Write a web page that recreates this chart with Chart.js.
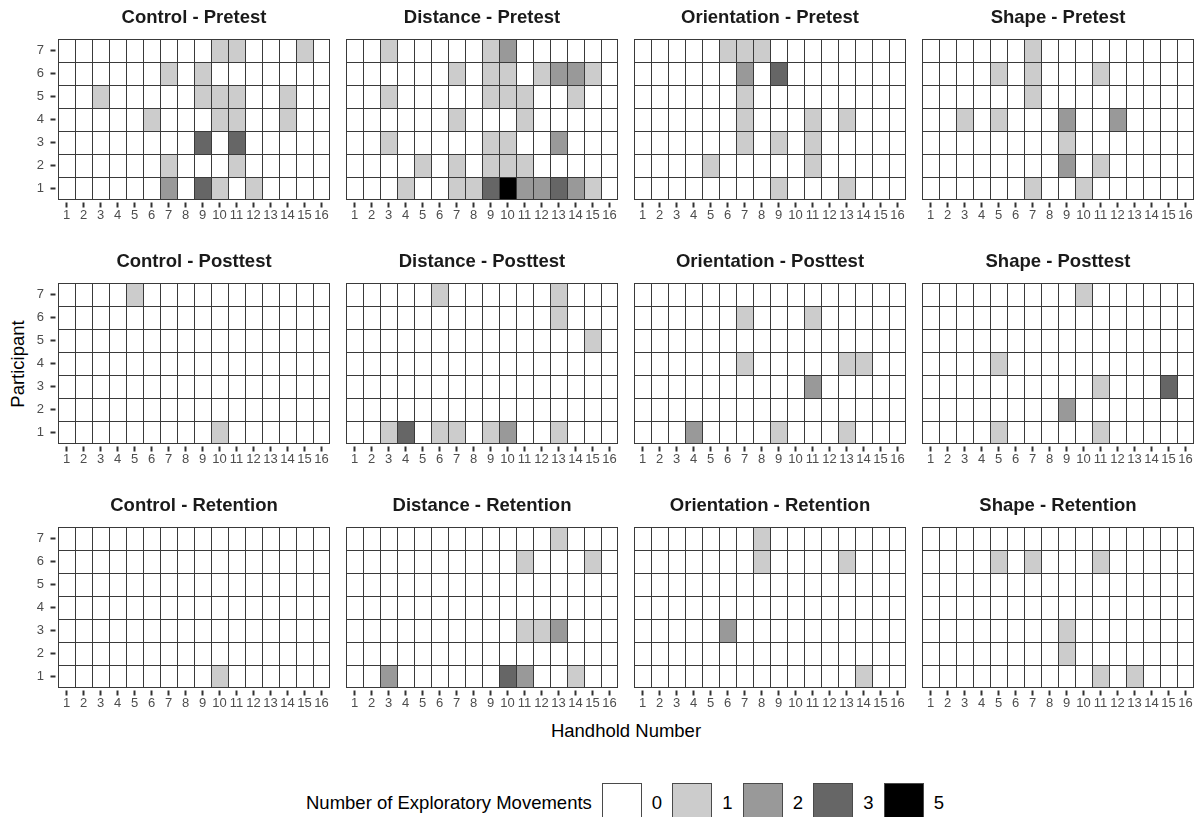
<!DOCTYPE html>
<html><head><meta charset="utf-8">
<script src="https://cdn.jsdelivr.net/npm/chart.js@4"></script>
<style>
html,body{margin:0;padding:0;background:#fff;width:1201px;height:817px;overflow:hidden;position:relative;font-family:'Liberation Sans',Arial,sans-serif;}
canvas{position:absolute;}
.txt{position:absolute;white-space:nowrap;color:#000;font-size:18.5px;line-height:1;}
#legend{position:absolute;left:306px;top:783px;height:40px;display:flex;align-items:center;}
#legend .key{width:40px;height:40px;box-sizing:border-box;border:1px solid #4a4a4a;}
#legend .klab{font-size:18.5px;margin:0 10px 0 10px;width:10.5px;text-align:left;}
</style></head><body>
<div class="txt" id="ytitle" style="left:18px;top:364px;transform:translate(-50%,-50%) rotate(-90deg);">Participant</div>
<div class="txt" id="xtitle" style="left:626px;top:731px;transform:translate(-50%,-50%);">Handhold Number</div>
<div id="legend"><span class="txt" style="position:static;margin-right:10px;">Number of Exploratory Movements</span></div>
<script>
// ---------------- DATA ----------------
const handholds = ['1','2','3','4','5','6','7','8','9','10','11','12','13','14','15','16'];
const participants = [1,2,3,4,5,6,7];
const groups = ['Control','Distance','Orientation','Shape'];
const phases = ['Pretest','Posttest','Retention'];
const legendLevels = [0,1,2,3,5];

// each matrix: rows = participant 7 (top) ... participant 1 (bottom); columns = handhold 1..16
const controlPretest = [
  [0,0,0,0,0,0,0,0,0,1,1,0,0,0,1,0],
  [0,0,0,0,0,0,1,0,1,0,0,0,0,0,0,0],
  [0,0,1,0,0,0,0,0,1,1,1,0,0,1,0,0],
  [0,0,0,0,0,1,0,0,0,1,1,0,0,1,0,0],
  [0,0,0,0,0,0,0,0,3,0,3,0,0,0,0,0],
  [0,0,0,0,0,0,1,0,0,0,1,0,0,0,0,0],
  [0,0,0,0,0,0,2,0,3,1,0,1,0,0,0,0]
];
const distancePretest = [
  [0,0,1,0,0,0,0,0,1,2,0,0,0,0,0,0],
  [0,0,0,0,0,0,1,0,1,1,0,1,2,2,1,0],
  [0,0,1,0,0,0,0,0,1,1,1,0,0,1,0,0],
  [0,0,0,0,0,0,1,0,0,0,1,0,0,0,0,0],
  [0,0,1,0,0,0,0,0,1,1,0,0,2,0,0,0],
  [0,0,0,0,1,0,1,0,1,1,1,0,0,0,0,0],
  [0,0,0,1,0,0,1,1,3,5,2,2,3,2,1,0]
];
const orientationPretest = [
  [0,0,0,0,0,1,1,1,0,0,0,0,0,0,0,0],
  [0,0,0,0,0,0,2,0,3,0,0,0,0,0,0,0],
  [0,0,0,0,0,0,1,0,0,0,0,0,0,0,0,0],
  [0,0,0,0,0,0,1,0,0,0,1,0,1,0,0,0],
  [0,0,0,0,0,0,1,0,1,0,1,0,0,0,0,0],
  [0,0,0,0,1,0,0,0,0,0,1,0,0,0,0,0],
  [0,0,0,0,0,0,0,0,1,0,0,0,1,0,0,0]
];
const shapePretest = [
  [0,0,0,0,0,0,1,0,0,0,0,0,0,0,0,0],
  [0,0,0,0,1,0,1,0,0,0,1,0,0,0,0,0],
  [0,0,0,0,0,0,1,0,0,0,0,0,0,0,0,0],
  [0,0,1,0,1,0,0,0,2,0,0,2,0,0,0,0],
  [0,0,0,0,0,0,0,0,1,0,0,0,0,0,0,0],
  [0,0,0,0,0,0,0,0,2,0,1,0,0,0,0,0],
  [0,0,0,0,0,0,1,0,0,1,0,0,0,0,0,0]
];
const controlPosttest = [
  [0,0,0,0,1,0,0,0,0,0,0,0,0,0,0,0],
  [0,0,0,0,0,0,0,0,0,0,0,0,0,0,0,0],
  [0,0,0,0,0,0,0,0,0,0,0,0,0,0,0,0],
  [0,0,0,0,0,0,0,0,0,0,0,0,0,0,0,0],
  [0,0,0,0,0,0,0,0,0,0,0,0,0,0,0,0],
  [0,0,0,0,0,0,0,0,0,0,0,0,0,0,0,0],
  [0,0,0,0,0,0,0,0,0,1,0,0,0,0,0,0]
];
const distancePosttest = [
  [0,0,0,0,0,1,0,0,0,0,0,0,1,0,0,0],
  [0,0,0,0,0,0,0,0,0,0,0,0,1,0,0,0],
  [0,0,0,0,0,0,0,0,0,0,0,0,0,0,1,0],
  [0,0,0,0,0,0,0,0,0,0,0,0,0,0,0,0],
  [0,0,0,0,0,0,0,0,0,0,0,0,0,0,0,0],
  [0,0,0,0,0,0,0,0,0,0,0,0,0,0,0,0],
  [0,0,1,3,0,1,1,0,1,2,0,0,1,0,0,0]
];
const orientationPosttest = [
  [0,0,0,0,0,0,0,0,0,0,0,0,0,0,0,0],
  [0,0,0,0,0,0,1,0,0,0,1,0,0,0,0,0],
  [0,0,0,0,0,0,0,0,0,0,0,0,0,0,0,0],
  [0,0,0,0,0,0,1,0,0,0,0,0,1,1,0,0],
  [0,0,0,0,0,0,0,0,0,0,2,0,0,0,0,0],
  [0,0,0,0,0,0,0,0,0,0,0,0,0,0,0,0],
  [0,0,0,2,0,0,0,0,1,0,0,0,1,0,0,0]
];
const shapePosttest = [
  [0,0,0,0,0,0,0,0,0,1,0,0,0,0,0,0],
  [0,0,0,0,0,0,0,0,0,0,0,0,0,0,0,0],
  [0,0,0,0,0,0,0,0,0,0,0,0,0,0,0,0],
  [0,0,0,0,1,0,0,0,0,0,0,0,0,0,0,0],
  [0,0,0,0,0,0,0,0,0,0,1,0,0,0,3,0],
  [0,0,0,0,0,0,0,0,2,0,0,0,0,0,0,0],
  [0,0,0,0,1,0,0,0,0,0,1,0,0,0,0,0]
];
const controlRetention = [
  [0,0,0,0,0,0,0,0,0,0,0,0,0,0,0,0],
  [0,0,0,0,0,0,0,0,0,0,0,0,0,0,0,0],
  [0,0,0,0,0,0,0,0,0,0,0,0,0,0,0,0],
  [0,0,0,0,0,0,0,0,0,0,0,0,0,0,0,0],
  [0,0,0,0,0,0,0,0,0,0,0,0,0,0,0,0],
  [0,0,0,0,0,0,0,0,0,0,0,0,0,0,0,0],
  [0,0,0,0,0,0,0,0,0,1,0,0,0,0,0,0]
];
const distanceRetention = [
  [0,0,0,0,0,0,0,0,0,0,0,0,1,0,0,0],
  [0,0,0,0,0,0,0,0,0,0,1,0,0,0,1,0],
  [0,0,0,0,0,0,0,0,0,0,0,0,0,0,0,0],
  [0,0,0,0,0,0,0,0,0,0,0,0,0,0,0,0],
  [0,0,0,0,0,0,0,0,0,0,1,1,2,0,0,0],
  [0,0,0,0,0,0,0,0,0,0,0,0,0,0,0,0],
  [0,0,2,0,0,0,0,0,0,3,2,0,0,1,0,0]
];
const orientationRetention = [
  [0,0,0,0,0,0,0,1,0,0,0,0,0,0,0,0],
  [0,0,0,0,0,0,0,1,0,0,0,0,1,0,0,0],
  [0,0,0,0,0,0,0,0,0,0,0,0,0,0,0,0],
  [0,0,0,0,0,0,0,0,0,0,0,0,0,0,0,0],
  [0,0,0,0,0,2,0,0,0,0,0,0,0,0,0,0],
  [0,0,0,0,0,0,0,0,0,0,0,0,0,0,0,0],
  [0,0,0,0,0,0,0,0,0,0,0,0,0,1,0,0]
];
const shapeRetention = [
  [0,0,0,0,0,0,0,0,0,0,0,0,0,0,0,0],
  [0,0,0,0,1,0,1,0,0,0,1,0,0,0,0,0],
  [0,0,0,0,0,0,0,0,0,0,0,0,0,0,0,0],
  [0,0,0,0,0,0,0,0,0,0,0,0,0,0,0,0],
  [0,0,0,0,0,0,0,0,1,0,0,0,0,0,0,0],
  [0,0,0,0,0,0,0,0,1,0,0,0,0,0,0,0],
  [0,0,0,0,0,0,0,0,0,0,1,0,1,0,0,0]
];

const panelData = [
  [controlPretest, distancePretest, orientationPretest, shapePretest],
  [controlPosttest, distancePosttest, orientationPosttest, shapePosttest],
  [controlRetention, distanceRetention, orientationRetention, shapeRetention]
];

// ---------------- STYLE / LAYOUT ----------------
const FONT = "'Liberation Sans', Arial, sans-serif";
const levelColor = {0:'#FFFFFF', 1:'#CCCCCC', 2:'#999999', 3:'#666666', 5:'#000000'};
const CELL_BORDER = '#3a3a3a';
const TICK_COLOR = '#333333';
const PANEL_LEFT = [58, 346, 634, 922];
const PANEL_TOP = [39, 283, 527];
const PANEL_W = 272, PANEL_H = 161;
const TITLE_H = 32, XAXIS_H = 30, AXIS_W = 30;

const tickMarks = {
  id: 'tickMarks',
  afterDraw(chart, args, opts) {
    const {ctx, chartArea: a, scales} = chart;
    ctx.save();
    ctx.fillStyle = TICK_COLOR;
    scales.x.ticks.forEach((t, i) => {
      const x = scales.x.getPixelForTick(i);
      ctx.fillRect(x - 1, a.bottom + 2.5, 2, 5);
    });
    if (opts.yTicks) {
      scales.y.ticks.forEach((t, i) => {
        const y = scales.y.getPixelForTick(i);
        ctx.fillRect(a.left - 7.5, y - 1, 5, 2);
      });
    }
    ctx.restore();
  }
};

function makePanel(r, c) {
  const matrix = panelData[r][c];
  const first = c === 0;
  const W = PANEL_W + (first ? 2 * AXIS_W : 0);
  const H = TITLE_H + PANEL_H + XAXIS_H;
  const cv = document.createElement('canvas');
  cv.width = W; cv.height = H;
  cv.style.left = (PANEL_LEFT[c] - (first ? AXIS_W : 0)) + 'px';
  cv.style.top = (PANEL_TOP[r] - TITLE_H) + 'px';
  cv.style.width = W + 'px'; cv.style.height = H + 'px';
  document.body.appendChild(cv);

  const datasets = participants.map(p => {
    const rowVals = matrix[participants.length - p];
    return {
      data: handholds.map(() => [p - 0.5, p + 0.5]),
      backgroundColor: rowVals.map(v => levelColor[v]),
      borderColor: CELL_BORDER,
      borderWidth: ctx => ({top: 1, left: 1, right: ctx.dataIndex === handholds.length - 1 ? 1 : 0, bottom: p === 1 ? 1 : 0}),
      borderSkipped: false,
      inflateAmount: 0,
      grouped: false,
      barPercentage: 1,
      categoryPercentage: 1,
      yAxisID: 'y'
    };
  });

  const tickFont = {family: FONT, size: 13};
  const sideW = first ? AXIS_W : 0;
  new Chart(cv, {
    type: 'bar',
    data: {labels: handholds, datasets},
    options: {
      responsive: false, animation: false, devicePixelRatio: 1,
      layout: {padding: 0},
      plugins: {
        legend: {display: false}, tooltip: {enabled: false},
        title: {display: true, text: groups[c] + ' - ' + phases[r], color: '#1A1A1A',
          font: {family: FONT, size: 18.5, weight: 'bold', lineHeight: 1.2},
          padding: {top: 0, bottom: TITLE_H - 22.2}},
        tickMarks: {yTicks: first}
      },
      scales: {
        x: {type: 'category', offset: true,
          grid: {display: true, drawOnChartArea: false, drawTicks: true, tickLength: 8, tickColor: 'rgba(0,0,0,0)'},
          border: {display: false},
          ticks: {autoSkip: false, maxRotation: 0, minRotation: 0, padding: 0, color: '#4D4D4D', font: tickFont},
          afterFit: s => { s.height = XAXIS_H; }},
        y: {type: 'linear', min: 0.5, max: 7.5, display: first,
          grid: {display: false, drawTicks: false}, border: {display: false},
          ticks: {padding: 14, color: '#4D4D4D', font: tickFont},
          afterBuildTicks: s => { s.ticks = participants.map(v => ({value: v})); },
          afterFit: s => { s.width = sideW; }},
        yr: {type: 'linear', position: 'right', display: first,
          grid: {display: false, drawTicks: false}, border: {display: false},
          ticks: {display: false},
          afterFit: s => { s.width = sideW; }}
      }
    },
    plugins: [tickMarks]
  });
}

for (let r = 0; r < phases.length; r++)
  for (let c = 0; c < groups.length; c++) makePanel(r, c);

// legend
const legend = document.getElementById('legend');
legendLevels.forEach(v => {
  const k = document.createElement('div');
  k.className = 'key';
  k.style.background = levelColor[v];
  legend.appendChild(k);
  const l = document.createElement('span');
  l.className = 'klab';
  l.textContent = String(v);
  legend.appendChild(l);
});
</script>
</body></html>
